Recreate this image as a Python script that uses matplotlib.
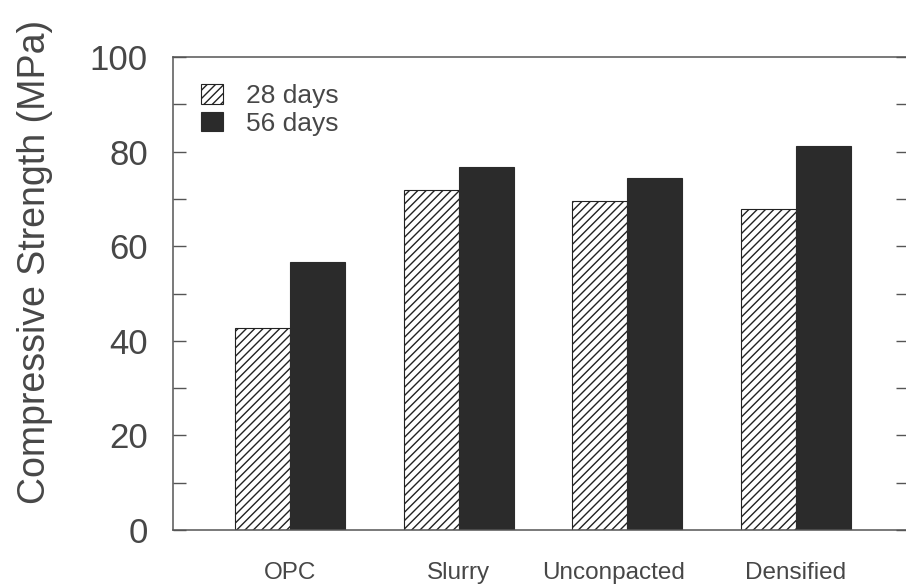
import numpy as np
import matplotlib
matplotlib.use("Agg")
import matplotlib.pyplot as plt
import matplotlib.transforms as mtransforms
from matplotlib.ticker import MultipleLocator

# ===== DATA =====
mixes = ["OPC", "Slurry", "Unconpacted", "Densified"]
strength_28d = [42.8, 71.9, 69.6, 67.9]
strength_56d = [56.7, 76.7, 74.5, 81.2]
series_labels = ["28 days", "56 days"]

# ===== STYLE =====
plt.rcParams['font.family'] = ['Liberation Sans', 'DejaVu Sans']
plt.rcParams['hatch.linewidth'] = 1.0
text_col = '#474747'
bar_dark = '#2b2b2b'

fig = plt.figure(figsize=(9.06, 5.87), dpi=100)
ax = fig.add_axes([173/906, 1 - 530/587, 735/906, 473/587])

x = np.arange(len(mixes))
w = 0.326

ax.bar(x - w/2, strength_28d, width=w, facecolor='white', edgecolor='#222222',
       hatch='////', linewidth=0.8, label=series_labels[0])
ax.bar(x + w/2, strength_56d, width=w, facecolor=bar_dark, edgecolor=bar_dark,
       linewidth=0.8, label=series_labels[1])

ax.set_xlim(-0.694, 3.664)
ax.set_ylim(0, 100)

ax.set_xticks(x)
ax.set_xticklabels(mixes, fontsize=17.5, color=text_col)
ax.tick_params(axis='x', length=0, pad=23)
# the long label sits a little left of its bar pair
lbl = ax.get_xticklabels()[2]
lbl.set_transform(lbl.get_transform() +
                  mtransforms.ScaledTranslation(-14/100, 0, fig.dpi_scale_trans))

ax.yaxis.set_major_locator(MultipleLocator(20))
ax.yaxis.set_minor_locator(MultipleLocator(10))
ax.tick_params(axis='y', which='both', direction='in', length=9, width=1.0,
               color='#555555', right=True, labelsize=25, labelcolor=text_col, pad=18)

for s in ax.spines.values():
    s.set_color('#555555')
    s.set_linewidth(1.1)
ax.spines['right'].set_visible(False)

fig.text(35/906, 1 - 262/587, "Compressive Strength (MPa)", rotation=90,
         ha='center', va='center', fontsize=27, color=text_col)

leg = ax.legend(loc='upper left', bbox_to_anchor=(0.038, 0.943), frameon=False,
                fontsize=19, handlelength=0.83, handleheight=0.76,
                handletextpad=0.86, labelspacing=0.15, borderpad=0, borderaxespad=0)
for t in leg.get_texts():
    t.set_color(text_col)

fig.savefig("out.png", dpi=100)
